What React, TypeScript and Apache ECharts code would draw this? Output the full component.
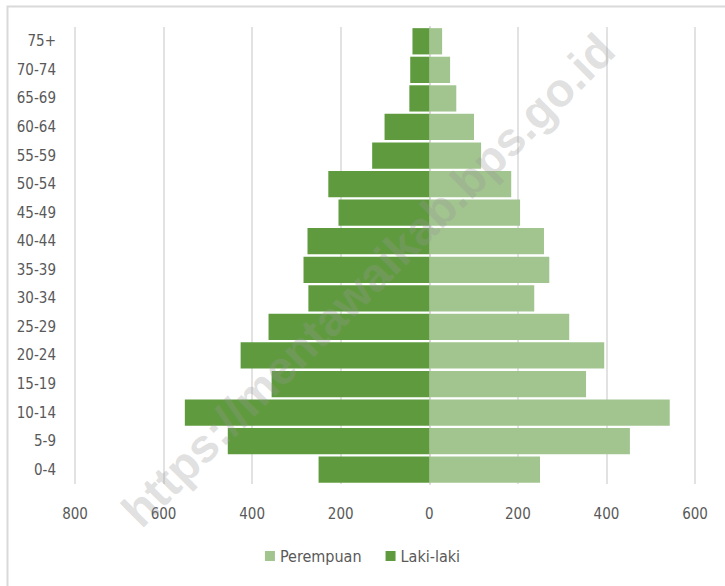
import React, { useEffect, useRef } from "react";
import * as echarts from "echarts";

const categories = ["0-4","5-9","10-14","15-19","20-24","25-29","30-34","35-39","40-44","45-49","50-54","55-59","60-64","65-69","70-74","75+"];
const perempuan = [250, 453, 543, 354, 395, 316, 237, 271, 259, 205, 185, 117, 101, 61, 47, 29];
const lakiLaki = [250, 455, 552, 356, 426, 363, 273, 284, 275, 205, 228, 129, 101, 45, 43, 38];
const xTicks = [-800, -600, -400, -200, 0, 200, 400, 600];

const FONT = "'Liberation Sans Narrow', 'DejaVu Sans Condensed', 'Roboto', sans-serif";

export default function App() {
  const ref = useRef<HTMLDivElement>(null);
  useEffect(() => {
    const chart = echarts.init(ref.current!, null, { renderer: "svg" });
    chart.setOption({
      animation: false,
      backgroundColor: "#fff",
      textStyle: { fontFamily: FONT },
      grid: { left: 75, right: 30, top: 27, bottom: 102, containLabel: false },
      legend: {
        bottom: 17,
        left: "center",
        icon: "rect",
        itemWidth: 10,
        itemHeight: 10,
        itemGap: 24,
        data: ["Perempuan", "Laki-laki"],
        textStyle: { fontFamily: FONT, fontSize: 16, color: "#595959" },
      },
      xAxis: {
        type: "value",
        min: xTicks[0],
        max: xTicks[xTicks.length - 1],
        interval: 200,
        axisLine: { show: false },
        axisTick: { show: false },
        splitLine: { show: true, lineStyle: { color: "#d9d9d9", width: 1.5 } },
        axisLabel: {
          formatter: (v: number) => String(Math.abs(v)),
          fontFamily: FONT,
          fontSize: 15,
          color: "#595959",
          margin: 22,
        },
      },
      yAxis: {
        type: "category",
        data: categories,
        axisLine: { show: true, onZero: true, lineStyle: { color: "#d9d9d9", width: 2 } },
        axisTick: { show: false },
        axisLabel: { fontFamily: FONT, fontSize: 15, color: "#595959", margin: 19 },
      },
      series: [
        {
          name: "Perempuan",
          type: "bar",
          data: perempuan,
          barGap: "-100%",
          barCategoryGap: "8%",
          itemStyle: { color: "#a2c58f" },
          z: 2,
        },
        {
          name: "Laki-laki",
          type: "bar",
          data: lakiLaki.map((v) => -v),
          barGap: "-100%",
          barCategoryGap: "8%",
          itemStyle: { color: "#5f9b3e" },
          z: 2,
        },
      ],
      graphic: [
        {
          type: "rect",
          left: 5,
          top: 4,
          shape: { width: 730, height: 600 },
          style: { fill: "none", stroke: "#d9d9d9", lineWidth: 2 },
          silent: true,
          z: 0,
        },
        {
          type: "text",
          x: 368,
          y: 280,
          rotation: Math.PI / 4,
          style: {
            text: "https://mentawaikab.bps.go.id",
            font: "bold 47px 'Liberation Sans', Arial, sans-serif",
            fill: "rgba(150,150,150,0.3)",
            align: "center",
            verticalAlign: "middle",
          },
          silent: true,
          z: 100,
        },
      ],
    });
    return () => chart.dispose();
  }, []);
  return <div ref={ref} style={{ width: 725, height: 586, position: "absolute", left: 0, top: 0 }} />;
}
